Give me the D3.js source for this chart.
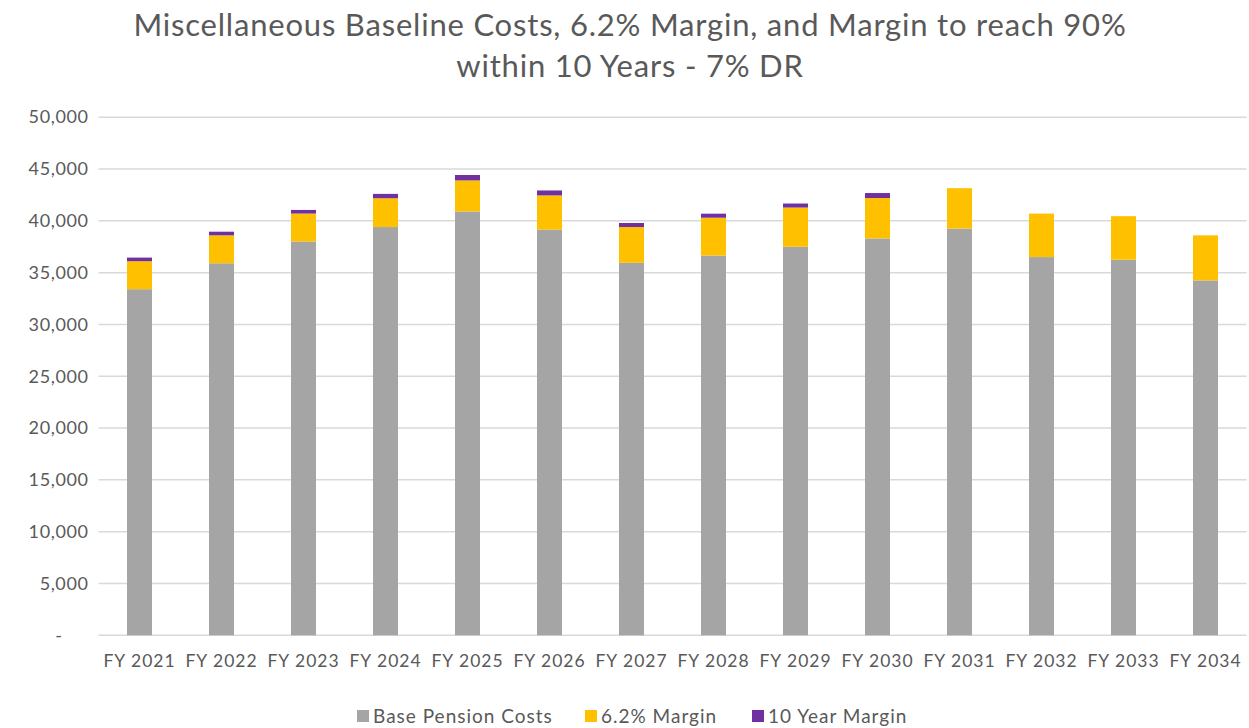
<!DOCTYPE html>
<html>
<head>
<meta charset="utf-8">
<script src="https://cdn.jsdelivr.net/npm/d3@7"></script>
<style>
  body { margin: 0; background: #fff; }
  svg { font-family: Lato, "Open Sans", sans-serif; }
</style>
</head>
<body>
<div id="chart"></div>
<script>
const years = ['FY 2021', 'FY 2022', 'FY 2023', 'FY 2024', 'FY 2025', 'FY 2026', 'FY 2027',
  'FY 2028', 'FY 2029', 'FY 2030', 'FY 2031', 'FY 2032', 'FY 2033', 'FY 2034'];
const basePension = [33400, 35900, 38000, 39400, 40900, 39150, 35950,
  36650, 37500, 38300, 39250, 36500, 36250, 34250];
const margin62 = [2700, 2700, 2700, 2780, 3000, 3300, 3450,
  3650, 3780, 3900, 3900, 4200, 4200, 4350];
const tenYearMargin = [350, 350, 350, 420, 520, 480, 390,
  390, 390, 480, 0, 0, 0, 0];
const yTicks = [0, 5000, 10000, 15000, 20000, 25000, 30000, 35000, 40000, 45000, 50000];

const seriesNames = ['Base Pension Costs', '6.2% Margin', '10 Year Margin'];
const colors = ['#A5A5A5', '#FFC000', '#7030A0'];

const width = 1249, height = 728;
const plot = { left: 98.5, right: 1246.5, top: 117.2, bottom: 635.3 };

const rows = years.map((y, i) => ({
  year: y, base: basePension[i], m62: margin62[i], ten: tenYearMargin[i]
}));
const stack = d3.stack().keys(['base', 'm62', 'ten'])(rows);

const svg = d3.select('#chart').append('svg')
  .attr('width', width).attr('height', height);

const x = d3.scaleBand().domain(years).range([plot.left, plot.right]).paddingInner(0.695).paddingOuter(0.3475);
const y = d3.scaleLinear().domain([0, 50000]).range([plot.bottom, plot.top]);

// title
const titleLines = ['Miscellaneous Baseline Costs, 6.2% Margin, and Margin to reach 90%', 'within 10 Years - 7% DR'];
svg.append('g')
  .selectAll('text')
  .data(titleLines)
  .enter()
    .append('text')
    .attr('x', 630).attr('y', (d, i) => 36 + i * 41)
    .attr('text-anchor', 'middle')
    .attr('font-size', 31).attr('letter-spacing', 0.8).attr('fill', '#595959')
    .text(d => d);

// gridlines
svg.append('g')
  .selectAll('line')
  .data(yTicks)
  .enter()
    .append('line')
    .attr('x1', plot.left).attr('x2', plot.right)
    .attr('y1', d => y(d)).attr('y2', d => y(d))
    .attr('stroke', '#D9D9D9').attr('stroke-width', 1.5);

// y axis labels (zero shown as accounting dash)
const yAxis = d3.axisLeft(y).tickValues(yTicks)
  .tickSize(0).tickPadding(10)
  .tickFormat(d => d === 0 ? '-' : d3.format(',')(d));
svg.append('g')
  .attr('transform', `translate(${plot.left},0)`)
  .call(yAxis)
  .call(g => g.select('.domain').remove())
  .call(g => g.selectAll('text').attr('font-size', 18).attr('letter-spacing', 0.6)
    .attr('fill', '#595959').attr('font-family', 'Lato, "Open Sans", sans-serif'))
  .call(g => g.selectAll('.tick').filter(d => d === 0).select('text').attr('dx', -26));

// bars
svg.append('g')
  .selectAll('g')
  .data(stack)
  .enter()
    .append('g')
    .attr('fill', (d, i) => colors[i])
    .selectAll('rect')
    .data(d => d)
    .enter()
      .append('rect')
      .attr('x', d => x(d.data.year))
      .attr('y', d => y(d[1]))
      .attr('width', x.bandwidth())
      .attr('height', d => y(d[0]) - y(d[1]));

// x axis labels
const xAxis = d3.axisBottom(x).tickSize(0).tickPadding(19);
svg.append('g')
  .attr('transform', `translate(0,${plot.bottom})`)
  .call(xAxis)
  .call(g => g.select('.domain').remove())
  .call(g => g.selectAll('text').attr('font-size', 17.5).attr('letter-spacing', 1)
    .attr('fill', '#595959').attr('font-family', 'Lato, "Open Sans", sans-serif'));

// legend
const legendX = [357, 585, 752];
const legend = svg.append('g')
  .selectAll('g')
  .data(seriesNames)
  .enter()
    .append('g')
    .attr('transform', (d, i) => `translate(${legendX[i]},716)`);
legend.append('rect')
  .attr('x', 0).attr('y', -6).attr('width', 12).attr('height', 12)
  .attr('fill', (d, i) => colors[i]);
legend.append('text')
  .attr('x', 16).attr('y', 0).attr('dy', '0.35em')
  .attr('font-size', 19).attr('letter-spacing', 1).attr('fill', '#595959')
  .text(d => d);
</script>
</body>
</html>
